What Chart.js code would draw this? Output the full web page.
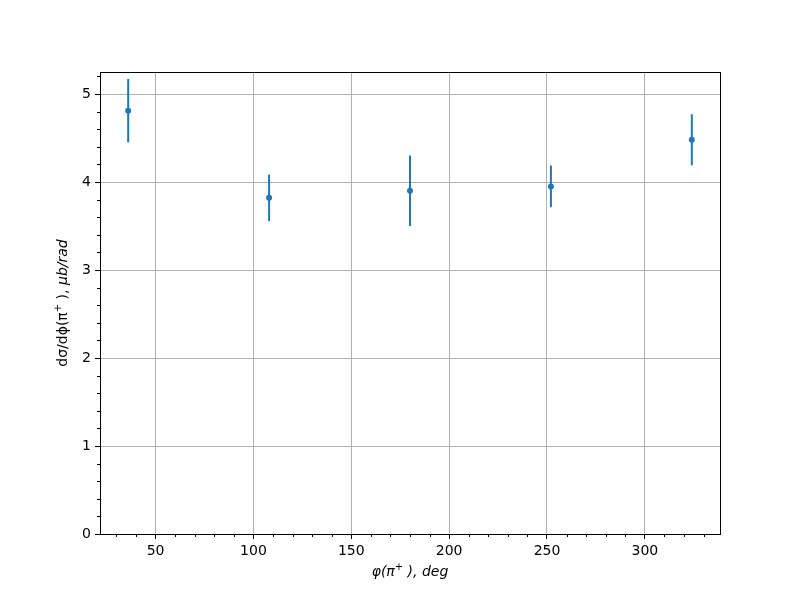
<!DOCTYPE html>
<html>
<head>
<meta charset="utf-8">
<script src="https://cdn.jsdelivr.net/npm/chart.js@4/dist/chart.umd.min.js"></script>
<style>
  body { margin: 0; background: #fff; }
  #wrap { width: 800px; height: 600px; }
</style>
</head>
<body>
<div id="wrap"><canvas id="c" width="800" height="600"></canvas></div>
<script>
// data
var phiDeg = [36, 108, 180, 252, 324];
var dSigma = [4.81, 3.82, 3.90, 3.95, 4.48];
var dSigmaErr = [0.36, 0.265, 0.40, 0.237, 0.29];

var xTicks = [50, 100, 150, 200, 250, 300];
var yTicks = [0, 1, 2, 3, 4, 5];
var xMinor = [30, 40, 60, 70, 80, 90, 110, 120, 130, 140, 160, 170, 180, 190, 210, 220, 230, 240, 260, 270, 280, 290, 310, 320, 330];
var yMinor = [0.2, 0.4, 0.6, 0.8, 1.2, 1.4, 1.6, 1.8, 2.2, 2.4, 2.6, 2.8, 3.2, 3.4, 3.6, 3.8, 4.2, 4.4, 4.6, 4.8, 5.2];

// axis labels in pieces (style: n = normal, i = italic, s = superscript)
var xLabel = [['φ(π', 'i'], ['+', 's'], [' ), deg', 'i']];
var yLabel = [['dσ/dϕ(π', 'n'], ['+', 's'], [' ), ', 'n'], ['μb/rad', 'i']];

var blue = '#1f77b4';
var font = { family: 'DejaVu Sans', size: 14 };

function partFont(style) {
    if (style === 'i') return 'italic 14px "DejaVu Sans"';
    if (style === 's') return '10px "DejaVu Sans"';
    return '14px "DejaVu Sans"';
}

// draws a label centred at (0,0) of the current transform
function drawLabel(ctx, parts) {
    var total = 0;
    parts.forEach(function(p) { ctx.font = partFont(p[1]); total += ctx.measureText(p[0]).width; });
    var x = -total / 2;
    ctx.textBaseline = 'middle';
    ctx.textAlign = 'left';
    ctx.fillStyle = '#000';
    parts.forEach(function(p) {
        ctx.font = partFont(p[1]);
        ctx.fillText(p[0], x, p[1] === 's' ? -5 : 0);
        x += ctx.measureText(p[0]).width;
    });
}

// error bars, minor ticks, the box round the axes and the axis labels
var extras = {
    id: 'extras',
    beforeDatasetsDraw: function(chart) {
        var ctx = chart.ctx;
        var xs = chart.scales.x, ys = chart.scales.y;
        ctx.save();
        ctx.strokeStyle = blue;
        ctx.lineWidth = 2;
        for (var i = 0; i < phiDeg.length; i++) {
            var px = xs.getPixelForValue(phiDeg[i]);
            ctx.beginPath();
            ctx.moveTo(px, ys.getPixelForValue(dSigma[i] + dSigmaErr[i]));
            ctx.lineTo(px, ys.getPixelForValue(dSigma[i] - dSigmaErr[i]));
            ctx.stroke();
        }
        ctx.restore();
    },
    afterDraw: function(chart) {
        var ctx = chart.ctx;
        var a = chart.chartArea;
        var xs = chart.scales.x, ys = chart.scales.y;
        ctx.save();
        ctx.strokeStyle = '#000';
        ctx.lineWidth = 1;
        ctx.beginPath();
        xMinor.forEach(function(v) {
            var px = Math.round(xs.getPixelForValue(v)) + 0.5;
            ctx.moveTo(px, a.bottom);
            ctx.lineTo(px, a.bottom + 3);
        });
        yMinor.forEach(function(v) {
            var py = Math.round(ys.getPixelForValue(v)) + 0.5;
            ctx.moveTo(a.left, py);
            ctx.lineTo(a.left - 3, py);
        });
        ctx.stroke();
        ctx.strokeRect(Math.round(a.left) + 0.5, Math.round(a.top) + 0.5,
                       Math.round(a.right - a.left), Math.round(a.bottom - a.top));

        ctx.save();
        ctx.translate((a.left + a.right) / 2, 572);
        drawLabel(ctx, xLabel);
        ctx.restore();

        ctx.save();
        ctx.translate(63, (a.top + a.bottom) / 2);
        ctx.rotate(-Math.PI / 2);
        drawLabel(ctx, yLabel);
        ctx.restore();
        ctx.restore();
    }
};

new Chart(document.getElementById('c'), {
    type: 'scatter',
    data: {
        datasets: [{
            data: phiDeg.map(function(x, i) { return { x: x, y: dSigma[i] }; }),
            backgroundColor: blue,
            borderColor: blue,
            pointRadius: 3,
            pointBorderWidth: 0
        }]
    },
    options: {
        responsive: false,
        animation: false,
        layout: { padding: { top: 72, right: 80, left: 0, bottom: 0 } },
        plugins: { legend: { display: false }, tooltip: { enabled: false } },
        scales: {
            x: {
                type: 'linear',
                min: 21.6,
                max: 338.4,
                afterBuildTicks: function(s) { s.ticks = xTicks.map(function(v) { return { value: v }; }); },
                afterFit: function(s) { s.height = 66; },
                grid: { color: '#b0b0b0', lineWidth: 1, tickColor: '#000', tickLength: 5 },
                border: { color: '#000', width: 1 },
                ticks: { color: '#000', font: font, padding: 4, maxRotation: 0 }
            },
            y: {
                min: 0,
                max: 5.25,
                afterBuildTicks: function(s) { s.ticks = yTicks.map(function(v) { return { value: v }; }); },
                afterFit: function(s) { s.width = 100; },
                grid: { color: '#b0b0b0', lineWidth: 1, tickColor: '#000', tickLength: 5 },
                border: { color: '#000', width: 1 },
                ticks: { color: '#000', font: font, padding: 4 }
            }
        }
    },
    plugins: [extras]
});
</script>
</body>
</html>
